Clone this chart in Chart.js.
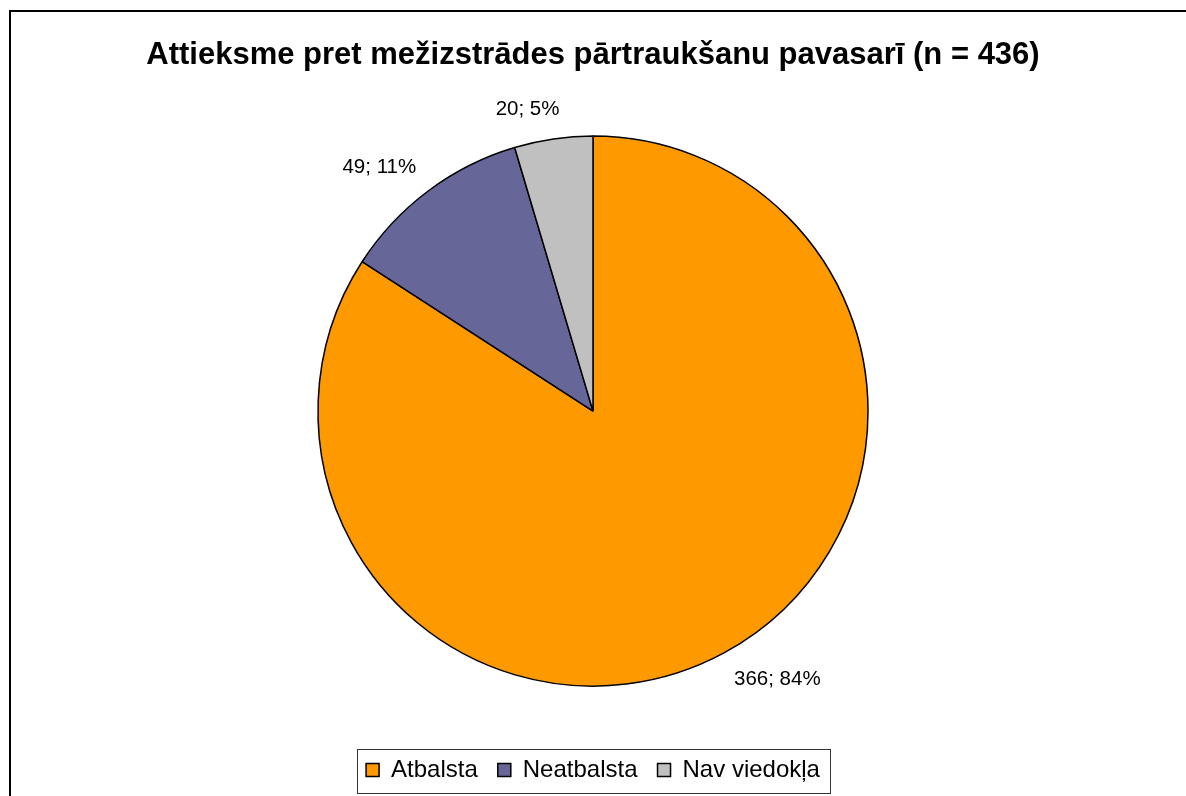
<!DOCTYPE html>
<html>
<head>
<meta charset="utf-8">
<script src="https://cdn.jsdelivr.net/npm/chart.js@4/dist/chart.umd.min.js"></script>
<style>
  html, body { margin: 0; padding: 0; background: #fff; }
  #wrap { width: 1186px; height: 796px; }
</style>
</head>
<body>
<div id="wrap"><canvas id="pie-chart"></canvas></div>
<script>
const categories = ['Atbalsta', 'Neatbalsta', 'Nav viedokļa'];
const answers = [366, 49, 20];
const sliceColors = ['#FF9900', '#666699', '#C0C0C0'];
const chartTitle = 'Attieksme pret mežizstrādes pārtraukšanu pavasarī (n = 436)';

const FONT = "'Liberation Sans', Arial, sans-serif";

// value; percent labels just outside each slice
const sliceLabels = {
  id: 'sliceLabels',
  afterDatasetsDraw(chart) {
    const ctx = chart.ctx;
    const meta = chart.getDatasetMeta(0);
    const data = chart.data.datasets[0].data;
    const total = data.reduce((a, b) => a + b, 0);
    ctx.save();
    ctx.font = '20.5px ' + FONT;
    ctx.fillStyle = '#000';
    ctx.textBaseline = 'middle';
    ctx.textAlign = 'center';
    meta.data.forEach((arc, i) => {
      const p = arc.getProps(['x', 'y', 'startAngle', 'endAngle', 'outerRadius'], true);
      const mid = (p.startAngle + p.endAngle) / 2;
      const r = p.outerRadius + 20;
      const cos = Math.cos(mid), sin = Math.sin(mid);
      const txt = data[i] + '; ' + Math.round(data[i] / total * 100) + '%';
      const w = ctx.measureText(txt).width;
      // push the label box away from the pie, mostly sideways
      const side = Math.max(-1, Math.min(1, cos * 5));
      ctx.fillText(txt, p.x + r * cos + side * w / 2, p.y + r * sin + 10 * sin);
    });
    ctx.restore();
  }
};

// outer frame and box around legend
const frames = {
  id: 'frames',
  afterDraw(chart) {
    const ctx = chart.ctx;
    ctx.save();
    ctx.strokeStyle = '#000';
    ctx.lineWidth = 2;
    ctx.strokeRect(10, 11, 1200, 800);
    const boxes = chart.legend.legendHitBoxes;
    if (boxes && boxes.length) {
      const first = boxes[0], last = boxes[boxes.length - 1];
      const cy = first.top + first.height / 2;
      ctx.lineWidth = 1;
      ctx.strokeStyle = '#333';
      ctx.strokeRect(Math.round(first.left - 9) + 0.5, Math.round(cy - 21) + 0.5,
        Math.round(last.left + last.width - first.left + 19), 44);
    }
    ctx.restore();
  }
};

new Chart(document.getElementById('pie-chart'), {
  type: 'pie',
  plugins: [sliceLabels, frames],
  data: {
    labels: categories,
    datasets: [{
      data: answers,
      backgroundColor: sliceColors,
      borderColor: '#000',
      borderWidth: 1.5
    }]
  },
  options: {
    responsive: true,
    maintainAspectRatio: false,
    animation: false,
    radius: 275,
    layout: { padding: { top: 0, bottom: 4, left: 0, right: 0 } },
    plugins: {
      tooltip: { enabled: false },
      title: {
        display: true,
        text: chartTitle,
        color: '#000',
        font: { family: FONT, size: 31, weight: 'bold', lineHeight: 1.2 },
        padding: { top: 37, bottom: 10 }
      },
      legend: {
        position: 'bottom',
        labels: {
          color: '#000',
          font: { family: FONT, size: 24 },
          boxWidth: 13,
          boxHeight: 13,
          padding: 20
        }
      }
    }
  }
});
</script>
</body>
</html>
